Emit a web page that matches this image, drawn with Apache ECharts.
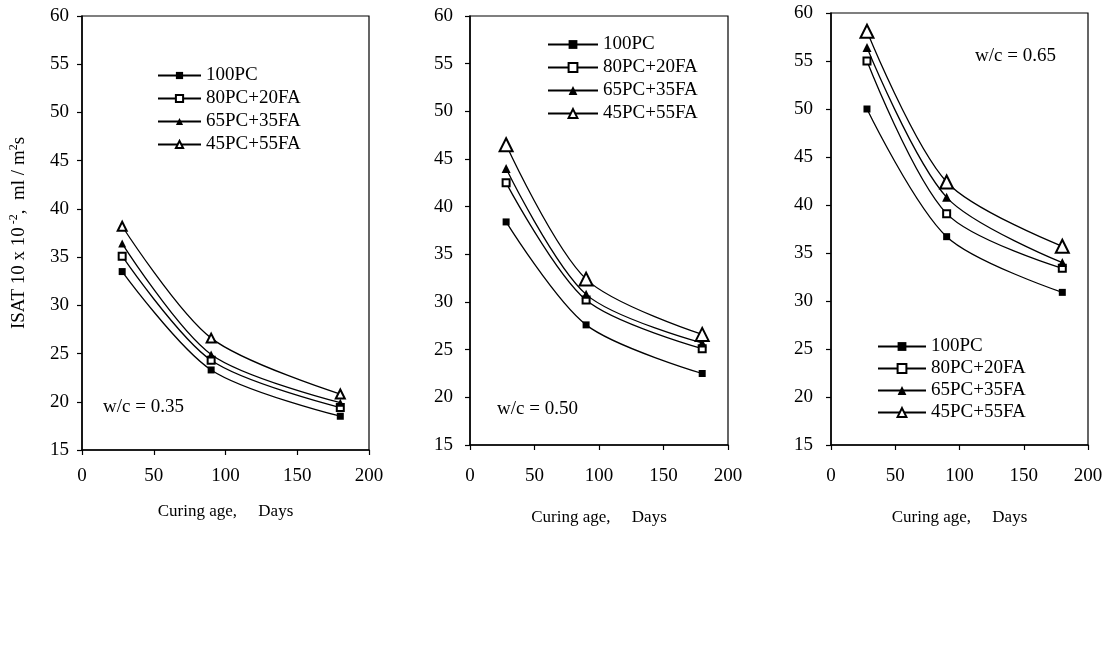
<!DOCTYPE html>
<html>
<head>
<meta charset="utf-8">
<script src="https://cdn.jsdelivr.net/npm/echarts@6/dist/echarts.min.js"></script>
<style>
html,body{margin:0;padding:0;background:#fff;}
#chart{width:1110px;height:650px;}
</style>
</head>
<body>
<div id="chart"></div>
<script>
// ---- data ----
const mixes = ['100PC', '80PC+20FA', '65PC+35FA', '45PC+55FA'];
const days = [28, 90, 180];
const xTicks = [0, 50, 100, 150, 200];
const yTicks = [15, 20, 25, 30, 35, 40, 45, 50, 55, 60];
const wcLabels = ['w/c = 0.35', 'w/c = 0.50', 'w/c = 0.65'];

const wc035_100PC = [33.5, 23.3, 18.5];
const wc035_80PC20FA = [35.1, 24.3, 19.4];
const wc035_65PC35FA = [36.4, 24.9, 19.9];
const wc035_45PC55FA = [38.2, 26.6, 20.8];

const wc050_100PC = [38.4, 27.6, 22.5];
const wc050_80PC20FA = [42.5, 30.2, 25.1];
const wc050_65PC35FA = [44.0, 30.8, 25.7];
const wc050_45PC55FA = [46.5, 32.4, 26.6];

const wc065_100PC = [50.0, 36.7, 30.9];
const wc065_80PC20FA = [55.0, 39.1, 33.4];
const wc065_65PC35FA = [56.4, 40.8, 34.0];
const wc065_45PC55FA = [58.1, 42.4, 35.7];

const panels = [
  [wc035_100PC, wc035_80PC20FA, wc035_65PC35FA, wc035_45PC55FA],
  [wc050_100PC, wc050_80PC20FA, wc050_65PC35FA, wc050_45PC55FA],
  [wc065_100PC, wc065_80PC20FA, wc065_65PC35FA, wc065_45PC55FA]
];

// ---- styles ----
const FONT = '"Liberation Serif", "Times New Roman", serif';
const symbols = ['rect', 'emptyRect', 'triangle', 'emptyTriangle'];
const symSizes = [
  [7, 7, 8, 9],
  [7, 7, 9, 13],
  [7, 7, 9, 13]
];
const grids = [
  {left: 82, top: 16, width: 287, height: 434},
  {left: 470, top: 16, width: 258, height: 429},
  {left: 831, top: 13, width: 257, height: 432}
];
const xLabelMargin = [17, 22, 22];
const xNameGap = [53, 64, 64];
const yLabelMargin = [13, 17, 18];

const option = {
  backgroundColor: '#fff',
  animation: false,
  grid: grids.map(g => Object.assign({show: true, borderColor: '#000', borderWidth: 1.2, backgroundColor: 'transparent'}, g)),
  xAxis: grids.map((g, i) => ({
    type: 'value', gridIndex: i, min: xTicks[0], max: xTicks[xTicks.length - 1], interval: 50,
    name: 'Curing age,     Days', nameLocation: 'middle', nameGap: xNameGap[i],
    nameTextStyle: {fontFamily: FONT, fontSize: 17, color: '#000'},
    axisLine: {show: true, lineStyle: {color: '#000', width: 1.5}},
    axisTick: {show: true, inside: false, length: 5, lineStyle: {color: '#000', width: 1.2}},
    axisLabel: {fontFamily: FONT, fontSize: 19, color: '#000', margin: xLabelMargin[i]},
    splitLine: {show: false}
  })),
  yAxis: grids.map((g, i) => ({
    type: 'value', gridIndex: i, min: yTicks[0], max: yTicks[yTicks.length - 1], interval: 5,
    name: i === 0 ? '{n|ISAT 10 x 10}{s| -2}{n|,  ml / m}{s|2}{n|s}' : '',
    nameLocation: 'middle', nameGap: 52, nameRotate: 90,
    nameTextStyle: {
      fontFamily: FONT, fontSize: 19, color: '#000',
      rich: {
        n: {fontFamily: FONT, fontSize: 19, color: '#000', lineHeight: 22},
        s: {fontFamily: FONT, fontSize: 12, color: '#000', verticalAlign: 'top', lineHeight: 13}
      }
    },
    axisLine: {show: true, lineStyle: {color: '#000', width: 1.5}},
    axisTick: {show: true, inside: false, length: 5, lineStyle: {color: '#000', width: 1.2}},
    axisLabel: {fontFamily: FONT, fontSize: 19, color: '#000', margin: yLabelMargin[i]},
    splitLine: {show: false}
  })),
  legend: [
    {left: 157, top: 66, itemWidth: 43, itemHeight: 9, itemGap: 4},
    {left: 547, top: 35, itemWidth: 50, itemHeight: 11, itemGap: 4},
    {left: 877, top: 337, itemWidth: 48, itemHeight: 11, itemGap: 3}
  ].map((l, i) => Object.assign({
    orient: 'vertical', padding: 0,
    data: mixes.map(m => m + ' '.repeat(i)),
    formatter: name => name.trim(),
    textStyle: {fontFamily: FONT, fontSize: 19, color: '#000'},
    selectedMode: false
  }, l)),
  graphic: [
    {type: 'text', left: 103, top: 398, style: {text: wcLabels[0], font: '19px ' + FONT, fill: '#000'}},
    {type: 'text', left: 497, top: 400, style: {text: wcLabels[1], font: '19px ' + FONT, fill: '#000'}},
    {type: 'text', left: 975, top: 47, style: {text: wcLabels[2], font: '19px ' + FONT, fill: '#000'}}
  ],
  series: []
};

panels.forEach((vals, p) => {
  vals.forEach((arr, s) => {
    option.series.push({
      type: 'line', name: mixes[s] + ' '.repeat(p), xAxisIndex: p, yAxisIndex: p,
      data: days.map((d, k) => [d, arr[k]]),
      smooth: 0.3,
      symbol: symbols[s], symbolSize: symSizes[p][s], showAllSymbol: true,
      lineStyle: {color: '#000', width: 1.3},
      itemStyle: {color: '#000', borderWidth: 1.2},
      emphasis: {disabled: true}
    });
  });
});

const chart = echarts.init(document.getElementById('chart'), null, {renderer: 'canvas'});
chart.setOption(option);
</script>
</body>
</html>
